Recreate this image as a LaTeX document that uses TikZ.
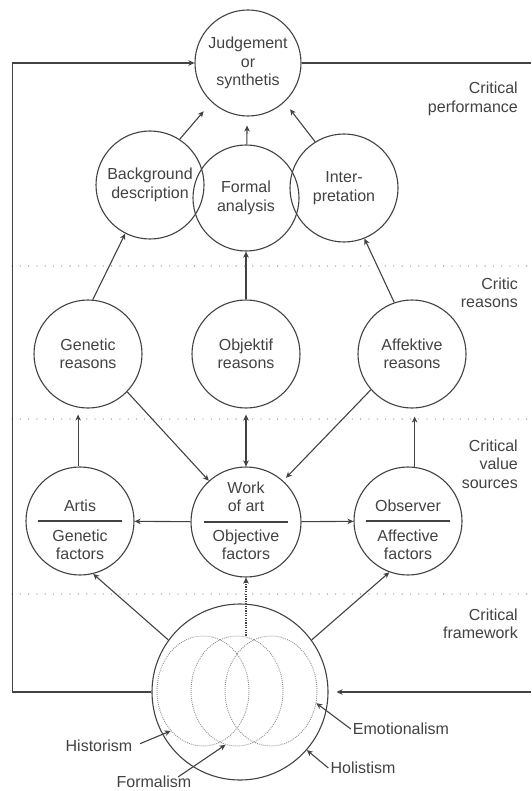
\documentclass[tikz,border=0pt]{standalone}
\usepackage{fontspec}
\setmainfont{Liberation Sans}
\usetikzlibrary{arrows.meta,shapes.geometric,calc}
\definecolor{ink}{RGB}{66,66,66}
\definecolor{dotgray}{RGB}{140,140,140}
\begin{document}
\begin{tikzpicture}[x=1pt,y=-1pt,
  font=\fontsize{16}{18.5}\selectfont,
  every node/.style={text=ink},
  bubble/.style={circle,draw=ink,line width=1.1pt,inner sep=0pt,minimum size=#1,align=center},
  bubble/.default=108pt,
  veil/.style={ellipse,draw=dotgray,line width=0.9pt,dash pattern=on 0.9pt off 1.1pt,
               inner sep=0pt,minimum width=92pt,minimum height=110pt},
  link/.style={draw=ink,line width=1.1pt},
  arr/.style={link,-{Stealth[length=6pt,width=5.5pt,inset=1.8pt]}},
  twoway/.style={link,{Stealth[length=6pt,width=5.5pt,inset=1.8pt]}-{Stealth[length=6pt,width=5.5pt,inset=1.8pt]}},
  band/.style={draw=dotgray,line width=1.3pt,line cap=round,dash pattern=on 0pt off 8.3pt},
  tag/.style={inner sep=2pt},
  side/.style={anchor=east,align=right,inner sep=0pt},
  divider/.style={draw=ink,line width=1.1pt}]
\useasboundingbox (0,0) rectangle (531,791);

% level separators
\path[band] (12,266) -- (531,266);
\path[band] (12,419) -- (531,419);
\path[band] (12,594) -- (531,594);

% level names
\node[side] at (518,99) {Critical\\performance};
\node[side] at (518,293) {Critic\\reasons};
\node[side] at (518,464) {Critical\\value\\sources};
\node[side] at (518,624) {Critical\\framework};

% critical performance
\node[bubble=106pt] (judge) at (248,63) {Judgement\\or\\synthetis};
\node[bubble] (back) at (150,185) {Background\\description};
\node[bubble=106pt] (formal) at (246,198) {Formal\\analysis};
\node[bubble] (inter) at (344,188) {Inter-\\pretation};

% critic reasons
\node[bubble] (gen) at (88,354) {Genetic\\reasons};
\node[bubble] (obj) at (246,354) {Objektif\\reasons};
\node[bubble] (aff) at (412,354) {Affektive\\reasons};

% value sources
\node[bubble] (artis) at (80,521) {};
\node[bubble=110pt] (work) at (246,522) {};
\node[bubble] (obs) at (408,521) {};
\path[divider] ([xshift=-42pt]artis.center) -- ([xshift=42pt]artis.center);
\path[divider] ([xshift=-42pt]work.center) -- ([xshift=42pt]work.center);
\path[divider] ([xshift=-42pt]obs.center) -- ([xshift=42pt]obs.center);
\node[align=center] at (80,506) {Artis};
\node[align=center] at (80,545) {Genetic\\factors};
\node[align=center] at (246,497) {Work\\of art};
\node[align=center] at (246,545) {Objective\\factors};
\node[align=center] at (408,506) {Observer};
\node[align=center] at (408,545) {Affective\\factors};

% critical framework
\node[bubble=176pt] (frame) at (240,692) {};
\node[veil] (ehist) at (203,691) {};
\node[veil] (eform) at (237,691) {};
\node[veil] (eemo) at (271,691) {};

\node[tag] (lhist) at (99,746) {Historism};
\node[tag] (lform) at (154,782) {Formalism};
\node[tag] (lemo) at (401,729) {Emotionalism};
\node[tag] (lhol) at (363,768) {Holistism};

% connectors: performance
\path[arr, shorten >=12pt] (back.57) -- (judge.-133);
\path[arr, shorten >=9pt] (formal) -- (judge);
\path[arr, shorten >=9pt] (inter.122) -- (judge.-47);

% connectors: reasons
\path[arr] (gen.85) -- (back.-117);
\path[arr] (obj) -- (formal);
\path[arr] (aff.109) -- (inter.-68);

% connectors: value sources
\path[arr] (gen.-44) -- (work.132);
\path[arr, shorten >=4pt] (aff.-139) -- (work.48);
\path[twoway, shorten <=6pt] (obj) -- (work);
\path[arr, shorten >=6pt] (artis.92) -- (artis.92 |- gen.south);
\path[arr, shorten >=8pt] (obs.83) -- (obs.83 |- aff.south);
\path[arr] (work) -- (artis);
\path[arr] (work) -- (obs);

% connectors: framework
\path[arr] (frame.144) -- (artis.-76);
\path[arr] (frame.36) -- (obs.-110);
\path[arr, dash pattern=on 1.2pt off 1.2pt] (work.south |- eform.north) -- (work.south);

% feedback loop
\coordinate (rtop) at (531,63);
\coordinate (rbot) at (531,692);
\path[arr] (frame.west) -- (12.5,692) |- (judge.west);
\path[link] (judge.east) -- (rtop);
\path[arr, shorten >=8pt] (rbot) -- (frame.east);

% school labels
\path[arr, shorten <=6pt] (lhist.east) -- (ehist.-129);
\path[arr] ([xshift=24pt,yshift=5pt]lform.center) -- (eform.-102);
\path[arr] (lemo.west) -- (eemo.-15);
\path[arr] (lhol.west) -- (frame.-41);
\end{tikzpicture}
\end{document}
